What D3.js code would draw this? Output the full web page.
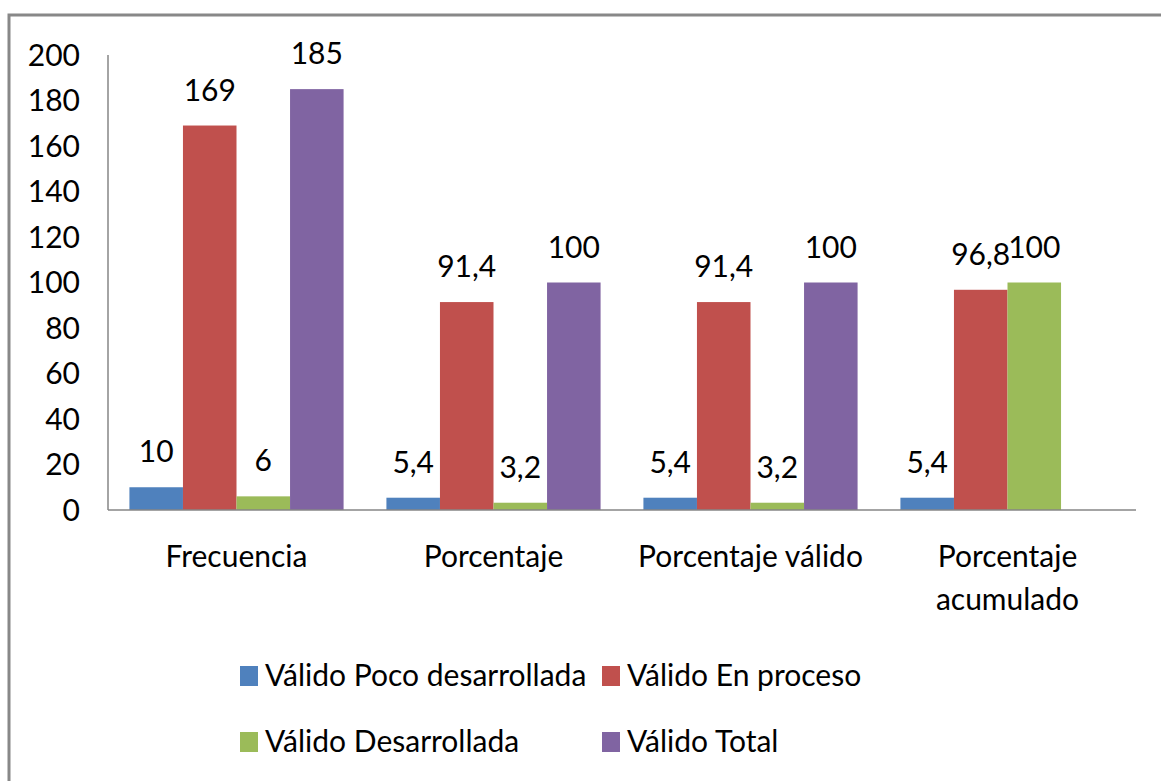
<!DOCTYPE html>
<html>
<head>
<meta charset="utf-8">
<script src="https://cdn.jsdelivr.net/npm/d3@7"></script>
<style>
  body { margin: 0; background: #fff; }
  svg text { font-family: Lato, "Liberation Sans", sans-serif; fill: #000; }
</style>
</head>
<body>
<div id="chart"></div>
<script>
// Chart data
const categories = ["Frecuencia", "Porcentaje", "Porcentaje válido", "Porcentaje acumulado"];
const seriesNames = ["Válido Poco desarrollada", "Válido En proceso", "Válido Desarrollada", "Válido Total"];
const seriesColors = ["#4F81BD", "#C0504D", "#9BBB59", "#8064A2"];
const pocoDesarrollada = [10, 5.4, 5.4, 5.4];
const enProceso = [169, 91.4, 91.4, 96.8];
const desarrollada = [6, 3.2, 3.2, 100];
const total = [185, 100, 100, null];
const yTicks = [0, 20, 40, 60, 80, 100, 120, 140, 160, 180, 200];

const seriesValues = [pocoDesarrollada, enProceso, desarrollada, total];

const W = 1161, H = 781;
const plot = { left: 108, right: 1136, top: 55, bottom: 510 };
const fontSize = "30px";

const svg = d3.select("#chart").append("svg")
    .attr("width", W)
    .attr("height", H);

// outer frame (only top and left edges fall inside the picture)
svg.append("rect")
    .attr("x", 9).attr("y", 15)
    .attr("width", 1300).attr("height", 900)
    .attr("fill", "none")
    .attr("stroke", "#888")
    .attr("stroke-width", 3);

const x = d3.scaleBand()
    .domain(categories)
    .range([plot.left, plot.right]);

const xs = d3.scaleBand()
    .domain(seriesNames)
    .range([0, x.bandwidth()])
    .paddingOuter(0.4);

const y = d3.scaleLinear()
    .domain([0, 200])
    .range([plot.bottom, plot.top]);

const fmt = v => String(v).replace(".", ",");

// y tick labels
svg.append("g").selectAll("text")
    .data(yTicks)
    .enter().append("text")
    .attr("x", plot.left - 28)
    .attr("y", d => y(d))
    .attr("dy", "0.36em")
    .attr("text-anchor", "end")
    .style("font-size", fontSize)
    .text(d => d);

// bars
const flat = [];
categories.forEach((c, i) => {
    seriesNames.forEach((s, j) => {
        const v = seriesValues[j][i];
        if (v !== null) flat.push({ cat: c, series: s, color: seriesColors[j], value: v });
    });
});

svg.append("g").selectAll("rect")
    .data(flat)
    .enter().append("rect")
    .attr("x", d => x(d.cat) + xs(d.series))
    .attr("y", d => y(d.value))
    .attr("width", xs.bandwidth())
    .attr("height", d => y(0) - y(d.value))
    .attr("fill", d => d.color);

// data labels
svg.append("g").selectAll("text")
    .data(flat)
    .enter().append("text")
    .attr("x", d => x(d.cat) + xs(d.series) + xs.bandwidth() / 2)
    .attr("y", d => y(d.value) - 25)
    .attr("text-anchor", "middle")
    .style("font-size", fontSize)
    .text(d => fmt(d.value));

// axes lines
svg.append("line")
    .attr("x1", plot.left).attr("x2", plot.left)
    .attr("y1", plot.top).attr("y2", plot.bottom)
    .attr("stroke", "#868686").attr("stroke-width", 1.5);
svg.append("line")
    .attr("x1", plot.left).attr("x2", plot.right)
    .attr("y1", plot.bottom).attr("y2", plot.bottom)
    .attr("stroke", "#868686").attr("stroke-width", 1.5);

// category labels (long ones wrap onto two lines)
const catLabels = svg.append("g").selectAll("text")
    .data(categories)
    .enter().append("text")
    .attr("x", d => x(d) + x.bandwidth() / 2)
    .attr("y", 567)
    .attr("text-anchor", "middle")
    .style("font-size", fontSize);

catLabels.each(function(d) {
    const lines = d === "Porcentaje acumulado" ? ["Porcentaje", "acumulado"] : [d];
    d3.select(this).selectAll("tspan")
        .data(lines)
        .enter().append("tspan")
        .attr("x", x(d) + x.bandwidth() / 2)
        .attr("dy", (l, i) => i === 0 ? 0 : 43)
        .text(l => l);
});

// legend
const legendPos = [
    { sx: 240, ty: 686 },
    { sx: 602, ty: 686 },
    { sx: 240, ty: 752 },
    { sx: 602, ty: 752 }
];

const legend = svg.append("g").selectAll("g")
    .data(seriesNames)
    .enter().append("g")
    .attr("transform", (d, i) => `translate(${legendPos[i].sx},${legendPos[i].ty})`);

legend.append("rect")
    .attr("x", 0)
    .attr("y", -20)
    .attr("width", 18)
    .attr("height", 20)
    .attr("fill", (d, i) => seriesColors[i]);

legend.append("text")
    .attr("x", 25)
    .attr("y", 0)
    .style("font-size", fontSize)
    .text(d => d);
</script>
</body>
</html>
